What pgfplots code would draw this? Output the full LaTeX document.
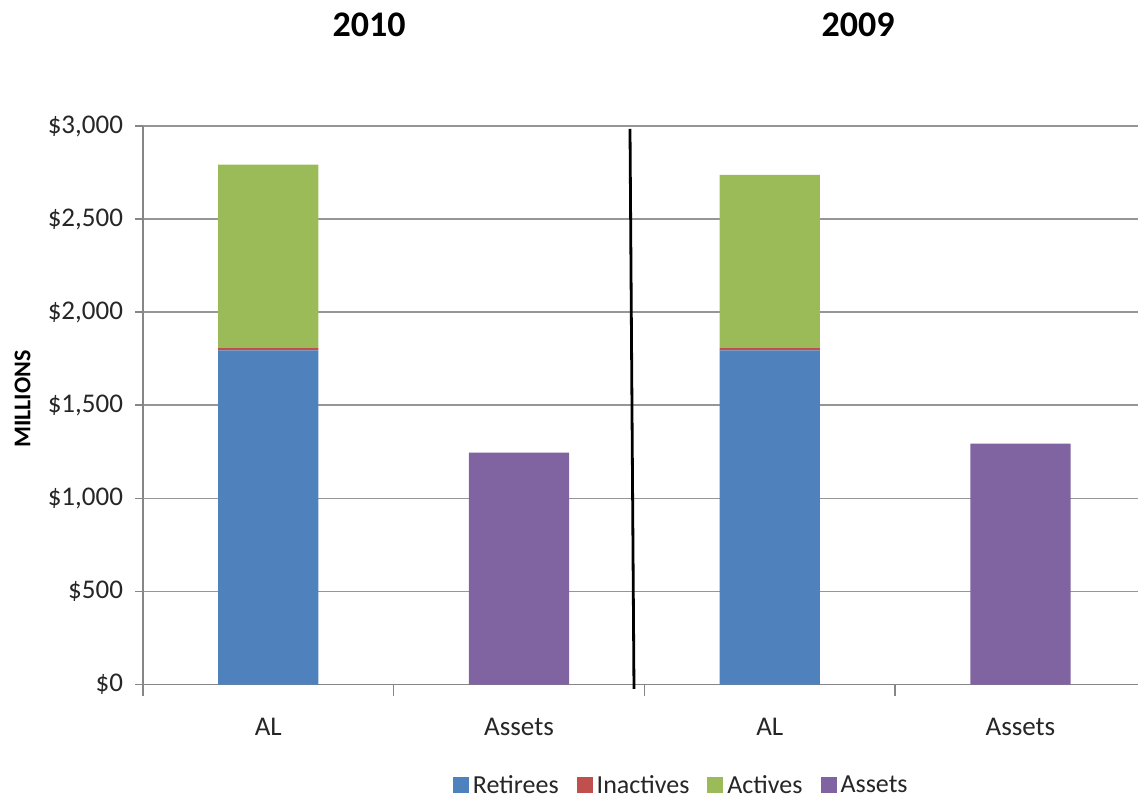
\documentclass[border=0pt]{standalone}
\usepackage{pgfplots}
\pgfplotsset{compat=1.18}
\usepackage{fontspec}
\setmainfont{Carlito}
\definecolor{cRet}{HTML}{4F81BD}
\definecolor{cIna}{HTML}{C0504D}
\definecolor{cAct}{HTML}{9BBB59}
\definecolor{cAss}{HTML}{8064A2}
\definecolor{axisgray}{RGB}{134,134,134}
\definecolor{gridgray}{RGB}{150,150,150}
\begin{document}
\begin{tikzpicture}
\useasboundingbox (0,0) rectangle (569pt,398.5pt);
\begin{axis}[
  at={(71.5pt,56.25pt)}, anchor=south west,
  width=497.5pt, height=279.25pt, scale only axis,
  xmin=-0.5, xmax=3.469, ymin=0, ymax=3000,
  ybar stacked, bar width=0.4,
  clip=false,
  axis x line*=bottom, axis y line*=left,
  axis line style={draw=axisgray, line width=0.75pt},
  every tick/.style={draw=axisgray, line width=0.75pt},
  tick align=outside,
  major tick length=4pt,
  ytick={0,500,1000,1500,2000,2500,3000},
  yticklabels={\$0,\$500,{\$1,000},{\$1,500},{\$2,000},{\$2,500},{\$3,000}},
  ymajorgrids, grid style={draw=gridgray, line width=0.75pt},
  xtick={0,1,2,3}, xticklabels={AL,Assets,AL,Assets},
  major x tick style={draw=none},
  minor xtick={-0.5,0.5,1.5,2.5},
  minor tick length=5.5pt,
  ticklabel style={font=\fontsize{13.5}{15}\selectfont, text=black!85},
  yticklabel style={xshift=-2.5pt},
  xticklabel style={yshift=-9.5pt},
  legend style={at={(0.542,-0.1815)}, anchor=center, draw=none,
    legend columns=4, font=\fontsize{13}{15}\selectfont, text=black!85,
    /tikz/every even column/.append style={column sep=7pt},
    nodes={inner sep=2pt}},
  legend image code/.code={\fill[#1] (0pt,-3.8pt) rectangle (8pt,4.2pt);},
]
\addplot[fill=cRet, draw=none] coordinates {(0,1795) (1,0) (2,1795) (3,0)};
\addplot[fill=cIna, draw=none] coordinates {(0,12) (1,0) (2,12) (3,0)};
\addplot[fill=cAct, draw=none] coordinates {(0,985) (1,0) (2,931) (3,0)};
\addplot[fill=cAss, draw=none] coordinates {(0,0) (1,1246) (2,0) (3,1294)};
\legend{Retirees,Inactives,Actives,Assets}
\draw[black, line width=1.4pt] (axis cs:1.4426,2984) -- (axis cs:1.4585,-24);
\end{axis}
\node[font=\bfseries\fontsize{18}{21}\selectfont] at (184.5pt,386pt) {2010};
\node[font=\bfseries\fontsize{18}{21}\selectfont] at (429pt,386pt) {2009};
\node[rotate=90, font=\bfseries\fontsize{12}{14}\selectfont] at (11.25pt,199pt) {MILLIONS};
\end{tikzpicture}
\end{document}
